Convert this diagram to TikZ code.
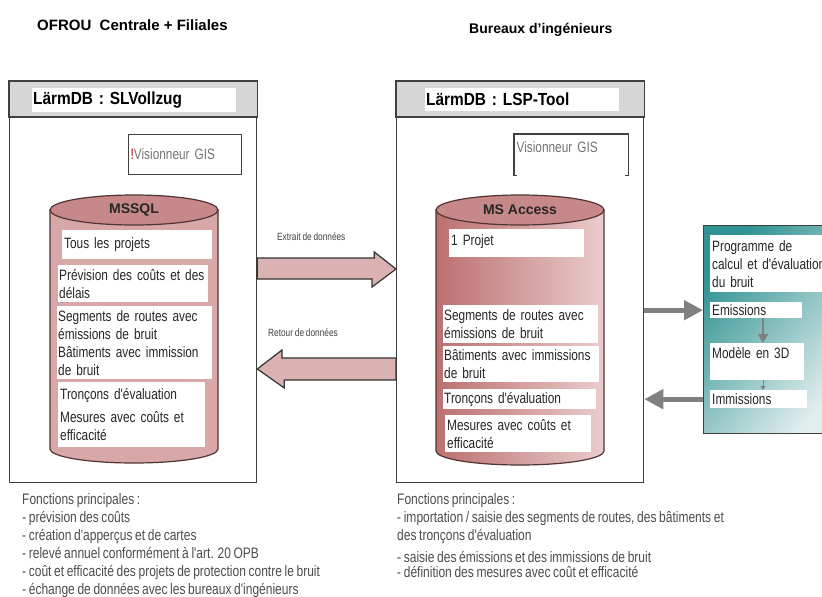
\documentclass[tikz,border=0pt]{standalone}
\usepackage{fontspec}
\setmainfont{Liberation Sans}
\newfontfamily\narrowfont{Liberation Sans}[FakeStretch=0.79,WordSpace=0.79]
\newfontfamily\headfont{Liberation Sans}[FakeStretch=0.88,WordSpace=0.88]
\usetikzlibrary{arrows.meta,calc}
\definecolor{headgray}{RGB}{214,214,214}
\definecolor{pinkbody}{RGB}{216,168,168}
\definecolor{pinktop}{RGB}{198,136,136}
\definecolor{pinkdark}{RGB}{188,112,112}
\definecolor{pinklight}{RGB}{234,204,204}
\definecolor{pinkline}{RGB}{80,52,52}
\definecolor{pinkarrow}{RGB}{218,178,178}
\definecolor{tealdark}{RGB}{48,146,146}
\definecolor{teallight}{RGB}{226,238,238}
\definecolor{arrowgray}{RGB}{128,128,128}
\newcommand\boxfont{\narrowfont\fontsize{15}{18}\selectfont}
\tikzset{
	outerbox/.style={draw=black!75,line width=1.3pt},
	headband/.style={fill=headgray,draw=black!75,line width=1.3pt},
	headfield/.style={fill=white,inner sep=1pt,anchor=north west,align=left,font=\headfont\bfseries\fontsize{17.5}{20}\selectfont},
	grouptitle/.style={inner sep=0pt,font=\bfseries\fontsize{15}{18}\selectfont},
	gisfield/.style={draw=black!75,line width=1.2pt,inner sep=2pt,anchor=north west,align=left,text=black!55,font=\boxfont},
	field/.style={fill=white,inner sep=2pt,anchor=north west,align=left,text=black!85,font=\boxfont},
	cylbody/.style={draw=pinkline,line width=1.2pt},
	dbtitle/.style={font=\bfseries\fontsize{14}{16}\selectfont,text=black!85},
	blockarrow/.style={fill=pinkarrow,draw=black!80,line width=1.2pt,line join=miter},
	arrowlabel/.style={inner sep=0pt,text=black!75,font=\narrowfont\fontsize{10.5}{12}\selectfont},
	grayarrow/.style={draw=arrowgray,line width=5pt,-{Triangle[length=19pt,width=19pt]}},
	bottomtext/.style={inner sep=0pt,anchor=north west,align=left,text=black!70,font=\narrowfont\fontsize{15.2}{18}\selectfont}
}
\begin{document}
\begin{tikzpicture}[x=1pt,y=-1pt]
	\useasboundingbox(0,0)rectangle(822,597);
	\clip(0,0)rectangle(822,597);
	\node[grouptitle,anchor=base west](ofrou)at(37,30){OFROU\ \ Centrale + Filiales};
	\node[grouptitle,font=\bfseries\fontsize{14}{16}\selectfont,anchor=base west](bureaux)at(469,33){Bureaux d'ingénieurs};
	% LärmDB SLVollzug
	\node[outerbox,anchor=north west,minimum width=247,minimum height=401](slbox)at(9,81){};
	\draw[headband](slbox.north west)rectangle($(slbox.north east)+(0,36)$);
	\node[headfield,text width=202,minimum height=24](sltitle)at(32,88){LärmDB : SLVollzug};
	\node[gisfield,text width=109,minimum height=40](gisl)at(128,134){\textcolor{red!70!black}{!}Visionneur GIS};
	\draw[cylbody,fill=pinkbody](50,210)--(50,449)arc[start angle=180,end angle=360,x radius=84pt,y radius=14pt]--(218,210)--cycle;
	\draw[cylbody,fill=pinktop](134,210)ellipse[x radius=84pt,y radius=15pt];
	\node[dbtitle](mssql)at(134,210){MSSQL};
	\node[field,text width=146,minimum height=29](tous)at(62,230){Tous les projets};
	\node[field,text width=148,minimum height=37,inner xsep=1pt](prev)at(58,265){Prévision des coûts et des\\délais};
	\node[field,text width=153,minimum height=73,inner xsep=1pt](segl)at(57,306){Segments de routes avec\\émissions de bruit\\Bâtiments avec immission\\de bruit};
	\node[field,text width=143,minimum height=65](mesl)at(58,382){Tronçons d'évaluation\\[5pt]Mesures avec coûts et\\efficacité};
	% LärmDB LSP-Tool
	\node[outerbox,anchor=north west,minimum width=247,minimum height=401](lspbox)at(396,81){};
	\draw[headband](lspbox.north west)rectangle($(lspbox.north east)+(0,36)$);
	\node[headfield,text width=192,minimum height=23](lsptitle)at(425,88){LärmDB : LSP-Tool};
	\node[gisfield,draw=none,text width=109,minimum height=40,text depth=15pt](gisr)at(514,134){Visionneur GIS};
	\draw[draw=black!75,line width=1.2pt]($(gisr.south west)+(3,0)$)--(gisr.south west)--(gisr.north west)--(gisr.north east)--(gisr.south east)--++(-3,0);
	\draw[cylbody,left color=pinkdark,right color=pinklight](436,210)--(436,451)arc[start angle=180,end angle=360,x radius=84pt,y radius=14pt]--(604,210)--cycle;
	\draw[cylbody,fill=pinktop](520,210)ellipse[x radius=84pt,y radius=15pt];
	\node[dbtitle](access)at(520,210){MS Access};
	\node[field,text width=131,minimum height=28,text depth=7pt](proj)at(449,229){1 Projet};
	\node[field,text width=153,minimum height=38,inner xsep=1pt](segr)at(443,305){Segments de routes avec\\émissions de bruit};
	\node[field,text width=154,minimum height=36,inner xsep=1pt](batr)at(443,346){Bâtiments avec immissions\\de bruit};
	\node[field,text width=151,minimum height=20,inner ysep=1pt,inner xsep=1pt](tronr)at(443,389){Tronçons d'évaluation};
	\node[field,text width=142,minimum height=37](mesr)at(445,415){Mesures avec coûts et\\efficacité};
	% echange
	\node[arrowlabel,anchor=base west](extract)at(277,240){Extrait de données};
	\draw[blockarrow](slbox.east|-0,258)--++(117,0)--++(0,-6)--(lspbox.west|-0,269)--++(-24,18)--++(0,-8)--(slbox.east|-0,279)--cycle;
	\node[arrowlabel,anchor=base west](retour)at(268,336){Retour de données};
	\draw[blockarrow](lspbox.west|-0,358)--++(-114,0)--++(0,-8)--(slbox.east|-0,369)--++(27,19)--++(0,-8)--(lspbox.west|-0,380)--cycle;
	% programme de calcul
	\node[draw=black!75,line width=1.2pt,top color=tealdark,bottom color=teallight,shading angle=50,anchor=north west,minimum width=140,minimum height=208](prog)at(703,225){};
	\node[field,text width=124,minimum height=57](progtitle)at(710,235){Programme de\\calcul et d'évaluation\\du bruit};
	\node[field,text width=88,minimum height=16,inner ysep=0pt](emis)at(710,302){Emissions};
	\node[field,text width=90,minimum height=37,text depth=18pt](model)at(710,343){Modèle en 3D};
	\node[field,text width=93,minimum height=18,inner ysep=0pt](immis)at(710,390){Immissions};
	\draw[arrowgray,line width=2.5pt,-{Triangle[length=9pt,width=10pt]}](763,0|-emis.south)--(763,0|-model.north);
	\draw[arrowgray,line width=1pt,-{Triangle[length=4pt,width=5pt]}](763,0|-model.south)--(763,0|-immis.north);
	\draw[grayarrow](lspbox.east|-emis.west)--(prog.west|-emis.west);
	\draw[grayarrow](prog.west|-immis.west)--(lspbox.east|-immis.west);
	% fonctions principales
	\node[bottomtext](fnl)at(22,493){Fonctions principales :\\- prévision des coûts\\- création d'apperçus et de cartes\\- relevé annuel conformément à l'art. 20 OPB\\- coût et efficacité des projets de protection contre le bruit\\- échange de données avec les bureaux d'ingénieurs};
	\node[bottomtext](fnr)at(397,493){Fonctions principales :\\- importation / saisie des segments de routes, des bâtiments et\\des tronçons d'évaluation\\[4pt]- saisie des émissions et des immissions de bruit\\[-3pt]- définition des mesures avec coût et efficacité};
\end{tikzpicture}
\end{document}
